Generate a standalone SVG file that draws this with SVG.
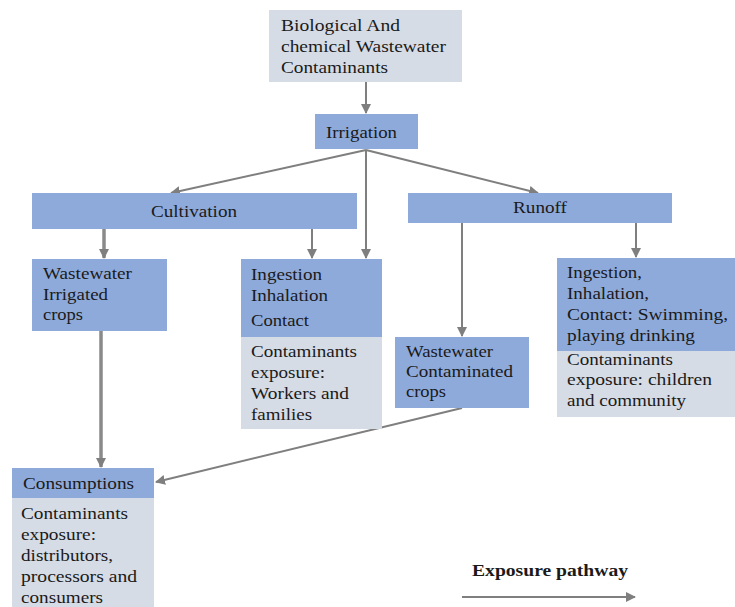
<svg xmlns="http://www.w3.org/2000/svg" width="735" height="607" viewBox="0 0 735 607">
<style>
.b{fill:#8eaadb}
.g{fill:#d6dce5}
text{font-family:'Liberation Serif','Times New Roman',serif;font-size:17px;fill:#1a1a1a}
.bold{font-weight:bold;font-size:16px}
.c{stroke:#7f7f7f;stroke-width:2;fill:none}
.t{stroke:#8a8a8a;stroke-width:3.5;fill:none}
</style>
<defs>
<marker id="ah" viewBox="0 0 10 10" refX="9" refY="5" markerWidth="5" markerHeight="5" orient="auto" markerUnits="strokeWidth">
<path d="M0,0 L10,5 L0,10 z" fill="#7f7f7f"/>
</marker>
<marker id="ah2" viewBox="0 0 10 10" refX="9" refY="5" markerWidth="3" markerHeight="3" orient="auto" markerUnits="strokeWidth">
<path d="M0,0 L10,5 L0,10 z" fill="#7f7f7f"/>
</marker>
</defs>
<rect width="735" height="607" fill="#ffffff"/>

<g id="connectors">
<line class="c" x1="366" y1="82" x2="366" y2="113" marker-end="url(#ah)"/>
<line class="c" x1="366" y1="150" x2="171" y2="193" marker-end="url(#ah)"/>
<line class="c" x1="366" y1="150" x2="538" y2="193" marker-end="url(#ah)"/>
<line class="c" x1="366" y1="150" x2="366" y2="258" marker-end="url(#ah)"/>
<line class="c" x1="312" y1="229" x2="312" y2="258" marker-end="url(#ah)"/>
<line class="t" x1="104" y1="229" x2="104" y2="258" marker-end="url(#ah2)"/>
<line class="t" x1="101" y1="331" x2="101" y2="467" marker-end="url(#ah2)"/>
<line class="c" x1="462" y1="223" x2="462" y2="336" marker-end="url(#ah)"/>
<line class="c" x1="636" y1="223" x2="636" y2="257" marker-end="url(#ah)"/>
<line class="c" x1="462" y1="408" x2="156" y2="482" marker-end="url(#ah)"/>
<line class="c" x1="462" y1="597" x2="635" y2="597" marker-end="url(#ah)"/>
</g>

<g id="source">
<rect class="g" x="269" y="10" width="193" height="72"/>
<text x="281" y="31" textLength="119" lengthAdjust="spacingAndGlyphs">Biological And</text>
<text x="281" y="52" textLength="165" lengthAdjust="spacingAndGlyphs">chemical Wastewater</text>
<text x="281" y="73" textLength="107" lengthAdjust="spacingAndGlyphs">Contaminants</text>
</g>

<g id="irrigation">
<rect class="b" x="315" y="114" width="103" height="35"/>
<text x="326" y="138" textLength="71" lengthAdjust="spacingAndGlyphs">Irrigation</text>
</g>

<g id="cultivation">
<rect class="b" x="32" y="193" width="325" height="36"/>
<text x="151" y="217" textLength="86" lengthAdjust="spacingAndGlyphs">Cultivation</text>
</g>

<g id="runoff">
<rect class="b" x="408" y="193" width="264" height="30"/>
<text x="513" y="213" textLength="54" lengthAdjust="spacingAndGlyphs">Runoff</text>
</g>

<g id="irrigated-crops">
<rect class="b" x="32" y="259" width="135" height="72"/>
<text x="43" y="279" textLength="89" lengthAdjust="spacingAndGlyphs">Wastewater</text>
<text x="43" y="300" textLength="65" lengthAdjust="spacingAndGlyphs">Irrigated</text>
<text x="43" y="320" textLength="40" lengthAdjust="spacingAndGlyphs">crops</text>
</g>

<g id="workers">
<rect class="b" x="241" y="259" width="141" height="78"/>
<rect class="g" x="241" y="337" width="141" height="92"/>
<text x="251" y="280" textLength="71" lengthAdjust="spacingAndGlyphs">Ingestion</text>
<text x="251" y="301" textLength="77" lengthAdjust="spacingAndGlyphs">Inhalation</text>
<text x="251" y="326" textLength="58" lengthAdjust="spacingAndGlyphs">Contact</text>
<text x="251" y="357" textLength="106" lengthAdjust="spacingAndGlyphs">Contaminants</text>
<text x="251" y="378" textLength="74" lengthAdjust="spacingAndGlyphs">exposure:</text>
<text x="251" y="399" textLength="98" lengthAdjust="spacingAndGlyphs">Workers and</text>
<text x="251" y="420" textLength="61" lengthAdjust="spacingAndGlyphs">families</text>
</g>

<g id="contaminated-crops">
<rect class="b" x="395" y="337" width="134" height="71"/>
<text x="406" y="357" textLength="87" lengthAdjust="spacingAndGlyphs">Wastewater</text>
<text x="406" y="377" textLength="107" lengthAdjust="spacingAndGlyphs">Contaminated</text>
<text x="406" y="397" textLength="40" lengthAdjust="spacingAndGlyphs">crops</text>
</g>

<g id="community">
<rect class="b" x="557" y="258" width="178" height="93"/>
<rect class="g" x="557" y="351" width="178" height="66"/>
<text x="567" y="278" textLength="75" lengthAdjust="spacingAndGlyphs">Ingestion,</text>
<text x="567" y="299" textLength="82" lengthAdjust="spacingAndGlyphs">Inhalation,</text>
<text x="567" y="320" textLength="161" lengthAdjust="spacingAndGlyphs">Contact: Swimming,</text>
<text x="567" y="341" textLength="128" lengthAdjust="spacingAndGlyphs">playing drinking</text>
<text x="567" y="365" textLength="106" lengthAdjust="spacingAndGlyphs">Contaminants</text>
<text x="567" y="385" textLength="145" lengthAdjust="spacingAndGlyphs">exposure: children</text>
<text x="567" y="406" textLength="119" lengthAdjust="spacingAndGlyphs">and community</text>
</g>

<g id="consumptions">
<rect class="b" x="12" y="468" width="142" height="30"/>
<rect class="g" x="12" y="498" width="142" height="109"/>
<text x="23" y="489" textLength="111" lengthAdjust="spacingAndGlyphs">Consumptions</text>
<text x="21" y="519" textLength="107" lengthAdjust="spacingAndGlyphs">Contaminants</text>
<text x="21" y="540" textLength="75" lengthAdjust="spacingAndGlyphs">exposure:</text>
<text x="21" y="561" textLength="92" lengthAdjust="spacingAndGlyphs">distributors,</text>
<text x="21" y="582" textLength="116" lengthAdjust="spacingAndGlyphs">processors and</text>
<text x="21" y="603" textLength="82" lengthAdjust="spacingAndGlyphs">consumers</text>
</g>

<g id="legend">
<text class="bold" x="472" y="576" textLength="156" lengthAdjust="spacingAndGlyphs">Exposure pathway</text>
</g>
</svg>
